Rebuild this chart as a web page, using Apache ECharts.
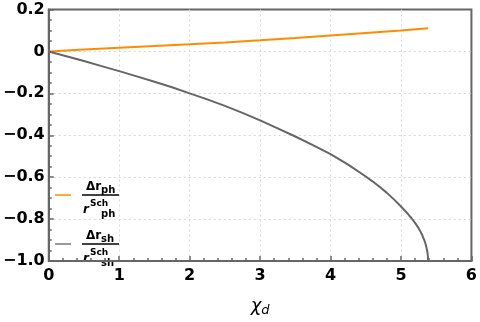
<!DOCTYPE html>
<html><head><meta charset="utf-8">
<script src="https://cdn.jsdelivr.net/npm/echarts@6/dist/echarts.min.js"></script>
<style>html,body{margin:0;padding:0;background:#fff}#c{width:480px;height:322px}</style>
</head><body><div id="c"></div>
<script>
// Data
const chiPh = [0, 0.5, 1, 1.5, 2, 2.5, 3, 3.5, 4, 4.5, 5, 5.385];
const ratioPh = [0, 0.009, 0.018, 0.026, 0.034, 0.043, 0.053, 0.064, 0.076, 0.088, 0.100, 0.111];
const chiSh = [0, 0.25, 0.5, 0.75, 1, 1.25, 1.5, 1.75, 2, 2.25, 2.5, 2.75, 3, 3.25, 3.5, 3.75, 4, 4.25, 4.5, 4.6, 4.7, 4.8, 4.9, 5, 5.05, 5.1, 5.15, 5.2, 5.25, 5.3, 5.33, 5.35, 5.365, 5.375, 5.382, 5.385];
const ratioSh = [0, -0.023, -0.046, -0.070, -0.094, -0.119, -0.145, -0.171, -0.200, -0.229, -0.260, -0.293, -0.329, -0.367, -0.406, -0.447, -0.490, -0.540, -0.597, -0.621, -0.647, -0.675, -0.706, -0.740, -0.758, -0.776, -0.796, -0.818, -0.843, -0.875, -0.900, -0.920, -0.940, -0.958, -0.976, -1.0];
const xTicks = [0, 1, 2, 3, 4, 5, 6];
const yTicks = [-1.0, -0.8, -0.6, -0.4, -0.2, 0, 0.2];

const FONT = 'DejaVu Sans';
const AX = '#666666';
const chart = echarts.init(document.getElementById('c'));
const pair = (xs, ys) => xs.map((x, i) => [x, ys[i]]);
const fmt = v => (Math.abs(v) < 1e-9 ? '0' : v.toFixed(1).replace('-', '\u2212'));

function txt(x, y, s, font) {
  return {type: 'text', x: x, y: y, style: {text: s, font: font, fill: '#000', align: 'left', verticalAlign: 'middle'}};
}
function legendEntry(y, color, sub) {
  return [
    {type: 'line', shape: {x1: 55, y1: y, x2: 71, y2: y}, style: {stroke: color, lineWidth: 1.5}},
    txt(86, y - 8, '\u0394r', 'bold 12px ' + FONT),
    txt(101, y - 5, sub, 'bold 10px ' + FONT),
    {type: 'line', shape: {x1: 82, y1: y, x2: 119, y2: y}, style: {stroke: '#000', lineWidth: 1.5}},
    txt(83, y + 15, 'r', 'italic bold 12px ' + FONT),
    txt(90, y + 9, 'Sch', 'bold 9px ' + FONT),
    txt(101, y + 19, sub, 'bold 10px ' + FONT)
  ];
}

chart.setOption({
  animation: false,
  grid: {left: 47, right: 7, top: 9.5, bottom: 49.5, show: true, borderColor: AX, borderWidth: 2, backgroundColor: 'transparent'},
  xAxis: {
    type: 'value', min: xTicks[0], max: xTicks[xTicks.length - 1], interval: 1,
    axisLine: {show: true, onZero: false, lineStyle: {color: AX, width: 2}},
    axisTick: {show: true, inside: true, length: 5, lineStyle: {color: AX, width: 1.5}},
    minorTick: {show: true, splitNumber: 5, length: 3, lineStyle: {color: AX, width: 1.5}},
    splitLine: {show: true, showMinLine: false, showMaxLine: false, lineStyle: {color: '#d8d8d8', type: [2, 3], width: 1}},
    axisLabel: {color: '#000', fontFamily: FONT, fontWeight: 'bold', fontSize: 16, margin: 7, formatter: v => String(v)},
    name: '{a|\u03c7}{b|d}', nameLocation: 'middle', nameGap: 36,
    nameTextStyle: {rich: {
      a: {fontFamily: FONT, fontStyle: 'italic', fontSize: 18, color: '#000', verticalAlign: 'bottom'},
      b: {fontFamily: FONT, fontStyle: 'italic', fontSize: 13, color: '#000', verticalAlign: 'bottom', padding: [0, 0, -2, 0]}
    }}
  },
  yAxis: {
    type: 'value', min: yTicks[0], max: yTicks[yTicks.length - 1], interval: 0.2,
    axisLine: {show: true, onZero: false, lineStyle: {color: AX, width: 2}},
    axisTick: {show: true, inside: true, length: 5, lineStyle: {color: AX, width: 1.5}},
    minorTick: {show: true, splitNumber: 4, length: 3, lineStyle: {color: AX, width: 1.5}},
    splitLine: {show: true, showMinLine: false, showMaxLine: false, lineStyle: {color: '#d8d8d8', type: [2, 3], width: 1}},
    axisLabel: {color: '#000', fontFamily: FONT, fontWeight: 'bold', fontSize: 16, margin: 4, formatter: fmt}
  },
  series: [
    {type: 'line', data: pair(chiPh, ratioPh), showSymbol: false, smooth: false, lineStyle: {color: '#ff8c00', width: 2}, z: 3},
    {type: 'line', data: pair(chiSh, ratioSh), showSymbol: false, smooth: false, lineStyle: {color: '#666666', width: 2}, z: 3}
  ],
  graphic: [].concat(legendEntry(195, '#ff8c00', 'ph'), legendEntry(244, '#777777', 'sh'))
});
</script></body></html>
